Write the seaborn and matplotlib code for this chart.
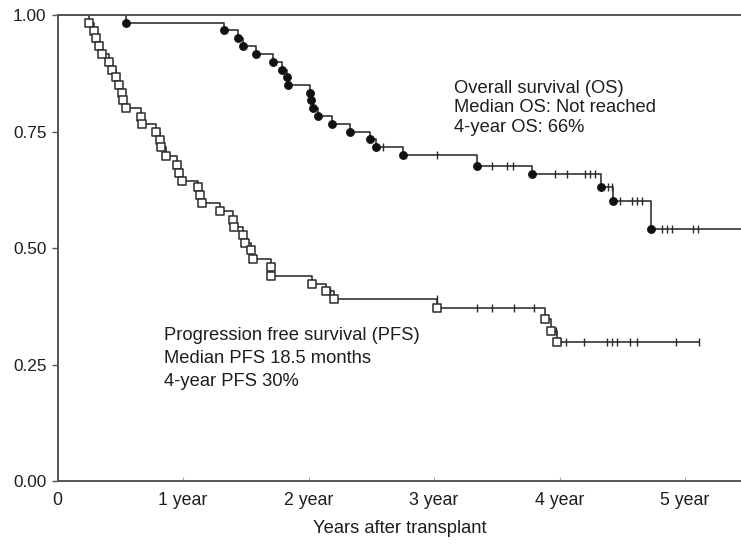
import numpy as np
import pandas as pd
import matplotlib
matplotlib.use("Agg")
import matplotlib.pyplot as plt
import seaborn as sns

# Kaplan-Meier steps: event time (years) and survival after it
os_event_t = [0.542, 1.329, 1.436, 1.476, 1.582, 1.717, 1.786, 1.826, 1.834, 2.012,
              2.020, 2.038, 2.078, 2.185, 2.331, 2.490, 2.538, 2.755, 3.345, 3.783,
              4.331, 4.430, 4.727]
os_event_s = [0.983, 0.967, 0.950, 0.933, 0.917, 0.900, 0.883, 0.867, 0.850, 0.833,
              0.817, 0.800, 0.783, 0.767, 0.750, 0.733, 0.717, 0.699, 0.677, 0.659,
              0.631, 0.601, 0.541]
os_censor_t = [2.596, 3.022, 3.460, 3.578, 3.626, 3.964, 4.057, 4.203, 4.242, 4.283,
               4.389, 4.420, 4.482, 4.575, 4.615, 4.655, 4.814, 4.854, 4.894, 5.061,
               5.106]
os_end = 5.6

pfs_event_t = [0.247, 0.287, 0.307, 0.327, 0.355, 0.414, 0.434, 0.470, 0.490, 0.510,
               0.522, 0.542, 0.663, 0.676, 0.785, 0.817, 0.822, 0.862, 0.955, 0.966,
               0.992, 1.122, 1.135, 1.154, 1.295, 1.396, 1.406, 1.480, 1.494, 1.542,
               1.555, 1.699, 1.703, 2.025, 2.137, 2.206, 3.025, 3.886, 3.930, 3.976]
pfs_event_s = [0.983, 0.966, 0.950, 0.933, 0.917, 0.900, 0.883, 0.867, 0.850, 0.833,
               0.817, 0.800, 0.782, 0.767, 0.748, 0.732, 0.717, 0.697, 0.678, 0.660,
               0.644, 0.631, 0.614, 0.596, 0.580, 0.561, 0.546, 0.528, 0.510, 0.496,
               0.476, 0.459, 0.441, 0.423, 0.408, 0.391, 0.371, 0.347, 0.322, 0.299]
pfs_censor_t = [2.170, 3.020, 3.345, 3.460, 3.637, 3.797, 3.970, 4.049, 4.195, 4.376,
                4.416, 4.461, 4.562, 4.615, 4.928, 5.114]
pfs_end = 5.114

x_ticks = [0, 1, 2, 3, 4, 5]
x_labels = ["0", "1 year", "2 year", "3 year", "4 year", "5 year"]
y_ticks = [0.0, 0.25, 0.5, 0.75, 1.0]

os_text = ["Overall survival (OS)", "Median OS: Not reached", "4-year OS: 66%"]
pfs_text = ["Progression free survival (PFS)", "Median PFS 18.5 months", "4-year PFS 30%"]

LINE = "#2b2b2b"
TXT = "#1e1e1e"


def step_frame(event_t, event_s, end_t):
    t = [0.0] + list(event_t) + [end_t]
    s = [1.0] + list(event_s) + [event_s[-1]]
    return pd.DataFrame({"t": t, "s": s})


def censor_frame(steps, censor_t):
    idx = np.searchsorted(steps["t"].values, censor_t, side="right") - 1
    return pd.DataFrame({"t": censor_t, "s": steps["s"].values[idx]})


sns.set_style("ticks")
plt.rcParams["font.family"] = ["Liberation Sans", "DejaVu Sans"]

fig = plt.figure(figsize=(7.41, 5.44), dpi=100)
ax = fig.add_axes([0.0776, 0.1158, 0.9224, 0.8566])

os_steps = step_frame(os_event_t, os_event_s, os_end)
pfs_steps = step_frame(pfs_event_t, pfs_event_s, pfs_end)

for steps in (os_steps, pfs_steps):
    sns.lineplot(data=steps, x="t", y="s", drawstyle="steps-post", estimator=None,
                 sort=False, color=LINE, linewidth=1.15, ax=ax)

# censored observations
for steps, cens in ((os_steps, os_censor_t), (pfs_steps, pfs_censor_t)):
    sns.scatterplot(data=censor_frame(steps, cens), x="t", y="s", marker="|",
                    s=34, color=LINE, linewidth=1.0, ax=ax, zorder=3)

# events
sns.scatterplot(x=os_event_t, y=os_event_s, marker="o", s=34, color="#111111",
                edgecolor="#111111", linewidth=0.5, ax=ax, zorder=4)
sns.scatterplot(x=pfs_event_t, y=pfs_event_s, marker="s", s=28, color="white",
                edgecolor=LINE, linewidth=1.1, ax=ax, zorder=4)

for i, line in enumerate(os_text):
    ax.text(3.16, 0.843 - i * 0.042, line, fontsize=13.2, color=TXT, va="center", ha="left")
for i, line in enumerate(pfs_text):
    ax.text(0.849, 0.313 - i * 0.05, line, fontsize=13.2, color=TXT, va="center", ha="left")

ax.set_xlim(0, 5.446)
ax.set_ylim(0, 1.0)
ax.set_xticks(x_ticks)
ax.set_xticklabels(x_labels)
ax.set_yticks(y_ticks)
ax.set_yticklabels([f"{v:.2f}" for v in y_ticks])
ax.tick_params(axis="y", direction="out", length=4, width=1.0, color="#555555",
               labelsize=12.4, labelcolor=TXT, pad=4)
ax.tick_params(axis="x", direction="in", length=3, width=0.8, color="#aaaaaa",
               labelsize=12.8, labelcolor=TXT, pad=8)
ax.set_xlabel("Years after transplant", fontsize=13.2, color=TXT, labelpad=8)
ax.set_ylabel("")

for side in ("left", "bottom", "top"):
    ax.spines[side].set_color("#555555")
    ax.spines[side].set_linewidth(1.4)
ax.spines["right"].set_visible(False)

fig.savefig("out.png", dpi=100)
